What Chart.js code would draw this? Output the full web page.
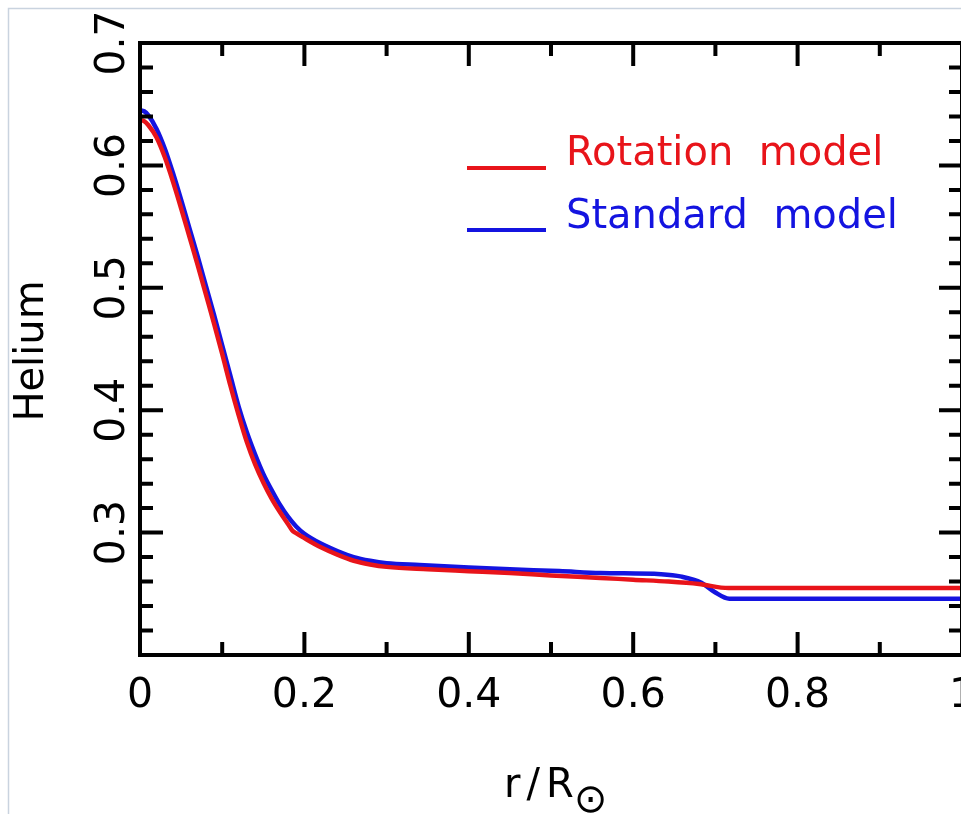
<!DOCTYPE html>
<html>
<head>
<meta charset="utf-8">
<script src="https://cdn.jsdelivr.net/npm/chart.js@4/dist/chart.umd.min.js"></script>
<style>
  html, body { margin: 0; padding: 0; background: #fff; overflow: hidden; width: 961px; height: 814px; }
  #wrap { position: absolute; left: 0; top: 0; width: 990px; height: 814px; }
</style>
</head>
<body>
<div id="wrap"><canvas id="c" width="990" height="814"></canvas></div>
<script>
// Helium mass fraction profiles versus fractional radius
const rotationR  = [0, 0.005, 0.01, 0.02, 0.03, 0.04, 0.05, 0.06, 0.07, 0.08, 0.09, 0.10, 0.11, 0.12, 0.13, 0.14, 0.15, 0.16, 0.17, 0.18, 0.185, 0.19, 0.20, 0.22, 0.24, 0.26, 0.28, 0.30, 0.35, 0.40, 0.45, 0.50, 0.56, 0.60, 0.643, 0.68, 0.716, 1.0];
const rotationHe = [0.637, 0.6362, 0.633, 0.623, 0.607, 0.587, 0.565, 0.542, 0.519, 0.495, 0.471, 0.446, 0.420, 0.396, 0.374, 0.356, 0.341, 0.328, 0.317, 0.307, 0.302, 0.2995, 0.2955, 0.288, 0.282, 0.277, 0.274, 0.272, 0.270, 0.2685, 0.267, 0.265, 0.263, 0.2615, 0.260, 0.258, 0.2547, 0.2547];

const standardR  = [0, 0.005, 0.01, 0.02, 0.03, 0.04, 0.05, 0.06, 0.07, 0.08, 0.09, 0.10, 0.11, 0.12, 0.13, 0.14, 0.15, 0.16, 0.17, 0.18, 0.19, 0.20, 0.22, 0.24, 0.26, 0.28, 0.30, 0.34, 0.40, 0.45, 0.51, 0.56, 0.634, 0.659, 0.683, 0.699, 0.717, 1.0];
const standardHe = [0.645, 0.6442, 0.641, 0.630, 0.614, 0.594, 0.572, 0.549, 0.526, 0.502, 0.478, 0.453, 0.428, 0.403, 0.382, 0.364, 0.348, 0.335, 0.323, 0.313, 0.305, 0.299, 0.291, 0.285, 0.280, 0.277, 0.275, 0.2735, 0.2715, 0.270, 0.2686, 0.267, 0.266, 0.264, 0.259, 0.2515, 0.246, 0.246];

const xTickLabels = ['0', '0.2', '0.4', '0.6', '0.8', '1'];
const yTickLabels = ['0.3', '0.4', '0.5', '0.6', '0.7'];
const seriesNames = ['Rotation  model', 'Standard  model'];

const RED = '#e8141a';
const BLUE = '#1414e0';
const INK = '#000';
const FONT = '"DejaVu Sans", sans-serif';

const toPoints = (xs, ys) => xs.map((x, i) => ({ x, y: ys[i] }));

// Boxed frame with inward ticks on all four sides, labels and legend
const framePlugin = {
  id: 'frame',
  beforeDraw(chart) {
    const ctx = chart.ctx;
    ctx.save();
    ctx.strokeStyle = '#c9d3df';
    ctx.lineWidth = 1.5;
    ctx.beginPath();
    ctx.moveTo(8.5, 814); ctx.lineTo(8.5, 8.5); ctx.lineTo(990, 8.5);
    ctx.stroke();
    ctx.restore();
  },
  afterDatasetsDraw(chart) {
    const { ctx, chartArea: a, scales: { x, y } } = chart;
    ctx.save();
    ctx.strokeStyle = INK;
    ctx.lineWidth = 4;
    ctx.lineCap = 'butt';
    ctx.strokeRect(a.left, a.top, a.right - a.left, a.bottom - a.top);

    const major = 23, minor = 13;
    ctx.beginPath();
    for (let i = 1; i < 10; i++) {
      const v = i / 10;
      const px = x.getPixelForValue(v);
      const len = (i % 2 === 0) ? major : minor;
      ctx.moveTo(px, a.bottom); ctx.lineTo(px, a.bottom - len);
      ctx.moveTo(px, a.top); ctx.lineTo(px, a.top + len);
    }
    for (let i = 1; i < 25; i++) {
      const v = 0.2 + i * 0.02;
      const py = y.getPixelForValue(v);
      const len = (i % 5 === 0) ? major : minor;
      ctx.moveTo(a.left, py); ctx.lineTo(a.left + len, py);
      ctx.moveTo(a.right, py); ctx.lineTo(a.right - len, py);
    }
    ctx.stroke();

    // tick labels
    ctx.fillStyle = INK;
    ctx.font = '41px ' + FONT;
    ctx.textAlign = 'center';
    ctx.textBaseline = 'alphabetic';
    xTickLabels.forEach(t => {
      ctx.fillText(t, x.getPixelForValue(parseFloat(t)), 707);
    });
    yTickLabels.forEach(t => {
      const py = y.getPixelForValue(parseFloat(t));
      ctx.save();
      ctx.translate(124, py);
      ctx.rotate(-Math.PI / 2);
      ctx.fillText(t, 0, 0);
      ctx.restore();
    });

    // axis titles
    ctx.save();
    ctx.font = '40px ' + FONT;
    ctx.translate(43, 351);
    ctx.rotate(-Math.PI / 2);
    ctx.fillText('Helium', 0, 0);
    ctx.restore();

    ctx.save();
    ctx.textAlign = 'left';
    ctx.font = '40px ' + FONT;
    ctx.letterSpacing = '6px';
    ctx.fillText('r/R', 504, 797);
    const w = ctx.measureText('r/R').width;
    ctx.letterSpacing = '0px';
    ctx.font = '40px ' + FONT;
    ctx.fillText('\u2299', 504 + w - 6, 812);
    ctx.restore();

    // legend
    const legendRows = [
      { name: seriesNames[0], color: RED, y: 168, base: 165 },
      { name: seriesNames[1], color: BLUE, y: 230, base: 228 }
    ];
    ctx.textAlign = 'left';
    ctx.font = '40px ' + FONT;
    ctx.lineWidth = 4;
    legendRows.forEach(r => {
      ctx.strokeStyle = r.color;
      ctx.beginPath();
      ctx.moveTo(467, r.y); ctx.lineTo(546, r.y);
      ctx.stroke();
      ctx.fillStyle = r.color;
      ctx.fillText(r.name, 566, r.base);
    });
    ctx.restore();
  }
};

new Chart(document.getElementById('c'), {
  type: 'line',
  data: {
    datasets: [
      {
        label: seriesNames[0],
        data: toPoints(rotationR, rotationHe),
        borderColor: RED,
        borderWidth: 4.5,
        pointRadius: 0,
        cubicInterpolationMode: 'monotone'
      },
      {
        label: seriesNames[1],
        data: toPoints(standardR, standardHe),
        borderColor: BLUE,
        borderWidth: 4.5,
        pointRadius: 0,
        cubicInterpolationMode: 'monotone'
      }
    ]
  },
  options: {
    responsive: false,
    animation: false,
    layout: { padding: { left: 140, right: 28, top: 43, bottom: 159 } },
    plugins: { legend: { display: false }, tooltip: { enabled: false } },
    scales: {
      x: { type: 'linear', min: 0, max: 1, display: false },
      y: { type: 'linear', min: 0.2, max: 0.7, display: false }
    }
  },
  plugins: [framePlugin]
});
</script>
</body>
</html>
